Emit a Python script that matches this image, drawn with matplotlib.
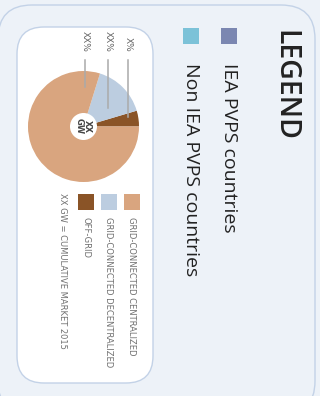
import matplotlib
matplotlib.use('Agg')
import matplotlib.pyplot as plt
from matplotlib.patches import FancyBboxPatch, Rectangle, Circle

# pie data (share of cumulative market)
segments = ['OFF-GRID', 'GRID-CONNECTED DECENTRALIZED', 'GRID-CONNECTED CENTRALIZED']
shares = [4.6, 15.6, 79.8]
seg_colors = ['#8a5427', '#bccde0', '#d9a57f']
pct_labels = ['X%', 'XX%', 'XX%']
center_label = 'XX\nGW'
footnote = 'XX GW = CUMULATIVE MARKET 2015'

# country group legend
groups = ['IEA PVPS countries', 'Non IEA PVPS countries']
group_colors = ['#7b87b1', '#7cc2d8']

bg = '#edf2f8'
edge = '#c3d2e7'
narrow = ['Liberation Sans Narrow', 'DejaVu Sans']
opensans = ['Open Sans', 'DejaVu Sans']

fig = plt.figure(figsize=(3.2, 3.96), dpi=100)
fig.patch.set_facecolor(bg)
ax = fig.add_axes([0, 0, 1, 1])

# outer and inner rounded panels
ax.add_patch(FancyBboxPatch((-2, 5), 317, 410, boxstyle='round,pad=0,rounding_size=34',
                            fc=bg, ec=edge, lw=1.0))
ax.add_patch(FancyBboxPatch((17, 27), 136, 356, boxstyle='round,pad=0,rounding_size=27',
                            fc='white', ec=edge, lw=1.0))

# pie (y axis is flipped, so counterclock=False draws visually counter-clockwise)
cx, cy, r = 83.5, 126.5, 55.5
wedges, _ = ax.pie(shares, colors=seg_colors, startangle=0, counterclock=False,
                   center=(cx, cy), radius=r, frame=True,
                   wedgeprops=dict(linewidth=0))
ax.set_xlim(0, 320)
ax.set_ylim(396, 0)
ax.set_aspect('equal')
ax.axis('off')
ax.add_patch(Circle((cx, cy), 13.5, fc='white', ec='none', zorder=3))
ax.text(cx, cy, center_label, rotation=270, ha='center', va='center',
        fontsize=6.0, fontweight='bold', color='#444444', family=narrow,
        linespacing=0.9, zorder=4)

# percentage callouts: vertical leader lines into each wedge
label_x = [128, 108, 85]
line_end = [117, 108, 87]
for lx, ly, txt in zip(label_x, line_end, pct_labels):
    ax.plot([lx, lx], [60, ly], color='#aaaaaa', lw=1.1, zorder=4)
    ax.text(lx, 52, txt, rotation=270, ha='center', va='bottom',
            fontsize=6.5, color='#666666', family=narrow)

# segment legend
sq_x = [78, 101, 124]
for x0, name, col in zip(sq_x, segments, seg_colors):
    ax.add_patch(Rectangle((x0, 194), 16, 16, fc=col, ec='none'))
    ax.text(x0 + 7.5, 217, name, rotation=270, ha='center', va='top',
            fontsize=6.0, color='#707070', family=narrow)
ax.text(62, 193, footnote, rotation=270, ha='center', va='top',
        fontsize=6.0, color='#707070', family=narrow)

# country legend
ax.text(285, 30, 'LEGEND', rotation=270, ha='center', va='top',
        fontsize=20.5, fontweight='semibold', color='#222222', family=opensans)
for x0, name, col in zip([221, 183], groups, group_colors):
    ax.add_patch(Rectangle((x0, 28), 16, 16, fc=col, ec='none'))
    ax.text(x0 + 8, 63, name, rotation=270, ha='center', va='top',
            fontsize=14, color='#222222', family=opensans)

plt.savefig('out.png', dpi=100, facecolor=bg)
